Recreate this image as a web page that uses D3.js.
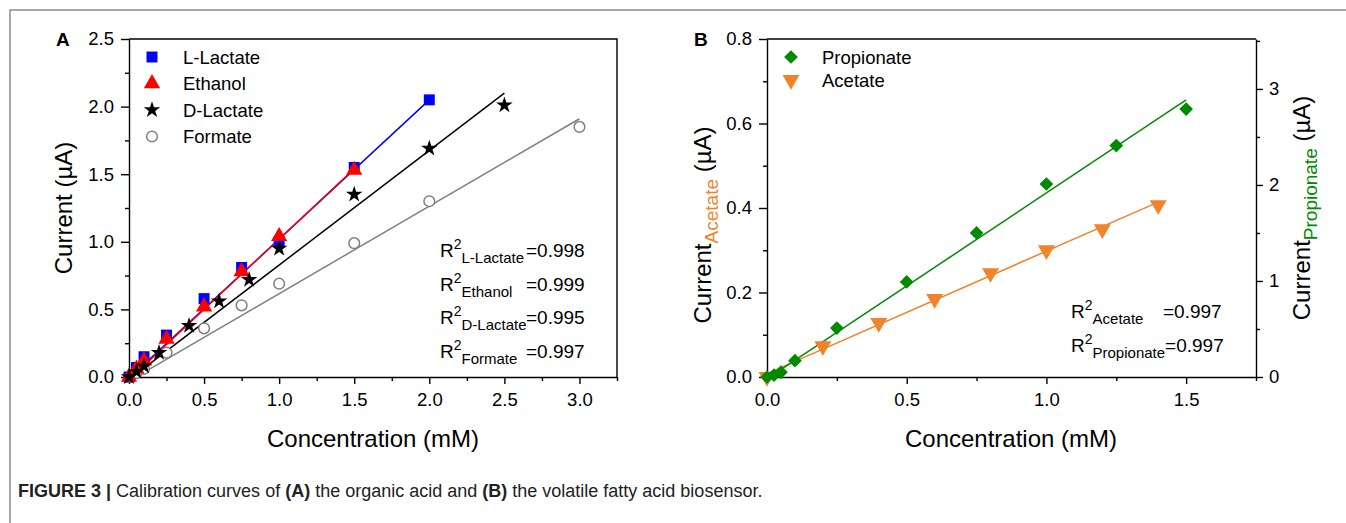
<!DOCTYPE html>
<html>
<head>
<meta charset="utf-8">
<script src="https://cdn.jsdelivr.net/npm/d3@7"></script>
<style>
  body { margin: 0; background: #fff; }
  svg text { font-family: "Liberation Sans", Arial, sans-serif; }
</style>
</head>
<body>
<svg id="chart" width="1346" height="523"></svg>
<script>
// Panel A data (concentration in mM, current in uA)
const lLactateX = [0, 0.05, 0.1, 0.25, 0.5, 0.75, 1.0, 1.5, 2.0];
const lLactateY = [0, 0.07, 0.15, 0.31, 0.58, 0.81, 1.0, 1.55, 2.05];
const ethanolX = [0, 0.05, 0.1, 0.25, 0.5, 0.75, 1.0, 1.5];
const ethanolY = [0, 0.06, 0.12, 0.28, 0.52, 0.78, 1.04, 1.53];
const dLactateX = [0, 0.05, 0.1, 0.2, 0.4, 0.6, 0.8, 1.0, 1.5, 2.0, 2.5];
const dLactateY = [0, 0.04, 0.08, 0.18, 0.38, 0.56, 0.72, 0.95, 1.35, 1.69, 2.01];
const formateX = [0, 0.05, 0.1, 0.25, 0.5, 0.75, 1.0, 1.5, 2.0, 3.0];
const formateY = [0, 0.03, 0.06, 0.18, 0.36, 0.53, 0.69, 0.99, 1.30, 1.85];

// linear fits: [[x0, y0], [x1, y1]]
const lLactateFit = [[0, -0.01], [2.0, 2.05]];
const ethanolFit = [[0, -0.02], [1.5, 1.54]];
const dLactateFit = [[0, -0.02], [2.5, 2.10]];
const formateFit = [[0, -0.03], [3.0, 1.91]];

const r2LabelsA = ['L-Lactate', 'Ethanol', 'D-Lactate', 'Formate'];
const r2ValuesA = ['0.998', '0.999', '0.995', '0.997'];

// Panel B data
const propionateX = [0, 0.025, 0.05, 0.1, 0.25, 0.5, 0.75, 1.0, 1.25, 1.5];
const propionateY = [0, 0.02, 0.05, 0.17, 0.51, 0.99, 1.50, 2.01, 2.41, 2.79]; // right axis
const acetateX = [0, 0.2, 0.4, 0.6, 0.8, 1.0, 1.2, 1.4];
const acetateY = [0, 0.073, 0.128, 0.185, 0.246, 0.30, 0.35, 0.407]; // left axis
const propionateFit = [[0, -0.02], [1.5, 2.885]];
const acetateFit = [[0, 0.008], [1.4, 0.414]];

// tick values
const xTicksA = [0, 0.5, 1.0, 1.5, 2.0, 2.5, 3.0];
const xMinorA = [0.25, 0.75, 1.25, 1.75, 2.25, 2.75, 3.25];
const yTicksA = [0, 0.5, 1.0, 1.5, 2.0, 2.5];
const yMinorA = [0.25, 0.75, 1.25, 1.75, 2.25];
const xTicksB = [0, 0.5, 1.0, 1.5];
const xMinorB = [0.25, 0.75, 1.25, 1.75];
const yTicksBL = [0, 0.2, 0.4, 0.6, 0.8];
const yMinorBL = [0.1, 0.3, 0.5, 0.7];
const yTicksBR = [0, 1, 2, 3];
const yMinorBR = [0.5, 1.5, 2.5, 3.5];

const svg = d3.select('#chart');

// figure frame
svg.append('path')
  .attr('d', 'M10,523 V10 H1346')
  .attr('fill', 'none')
  .attr('stroke', '#8a8a8a')
  .attr('stroke-width', 1.5);

// scales
const xA = d3.scaleLinear().domain([0, 3.25]).range([129, 617]);
const yA = d3.scaleLinear().domain([0, 2.5]).range([377, 39]);
const xB = d3.scaleLinear().domain([0, 1.75]).range([767, 1256]);
const yBL = d3.scaleLinear().domain([0, 0.8]).range([377, 39]);
const yBR = d3.scaleLinear().domain([0, 3.52]).range([377, 39]);

function styleAxis(g) {
  g.selectAll('path, line').attr('stroke', '#000').attr('stroke-width', 1.4);
  g.selectAll('text').attr('font-size', 18.5).attr('fill', '#000')
    .attr('font-family', '"Liberation Sans", Arial, sans-serif');
}

function drawAxes(x, y, xt, xm, yt, ym, fmtX, fmtY, box) {
  svg.append('g')
    .attr('transform', `translate(0,${y.range()[0]})`)
    .call(d3.axisBottom(x).tickValues(xt).tickSize(7).tickSizeOuter(0).tickPadding(9).tickFormat(fmtX))
    .call(styleAxis);
  svg.append('g')
    .attr('transform', `translate(0,${y.range()[0]})`)
    .call(d3.axisBottom(x).tickValues(xm).tickSize(4).tickFormat(''))
    .call(g => g.select('.domain').remove())
    .call(styleAxis);
  svg.append('g')
    .attr('transform', `translate(${x.range()[0]},0)`)
    .call(d3.axisLeft(y).tickValues(yt).tickSize(8).tickSizeOuter(0).tickPadding(7).tickFormat(fmtY))
    .call(styleAxis);
  svg.append('g')
    .attr('transform', `translate(${x.range()[0]},0)`)
    .call(d3.axisLeft(y).tickValues(ym).tickSize(4).tickFormat(''))
    .call(g => g.select('.domain').remove())
    .call(styleAxis);
  // top line (and right line for box)
  const x0 = x.range()[0], x1 = x.range()[1], y0 = y.range()[0], y1 = y.range()[1];
  svg.append('path')
    .attr('d', box ? `M${x0},${y1} H${x1} V${y0}` : `M${x0},${y1} H${x1}`)
    .attr('fill', 'none').attr('stroke', '#000').attr('stroke-width', 1.4);
}

const f1 = d3.format('.1f');
drawAxes(xA, yA, xTicksA, xMinorA, yTicksA, yMinorA, f1, f1, true);
drawAxes(xB, yBL, xTicksB, xMinorB, yTicksBL, yMinorBL, f1, f1, false);

// right axis of panel B
svg.append('g')
  .attr('transform', `translate(${xB.range()[1]},0)`)
  .call(d3.axisRight(yBR).tickValues(yTicksBR).tickSize(7).tickSizeOuter(0).tickPadding(6).tickFormat(d3.format('d')))
  .call(styleAxis);
svg.append('g')
  .attr('transform', `translate(${xB.range()[1]},0)`)
  .call(d3.axisRight(yBR).tickValues(yMinorBR).tickSize(4).tickFormat(''))
  .call(g => g.select('.domain').remove())
  .call(styleAxis);

// fit lines
function fitLine(fit, x, y, color) {
  svg.append('path')
    .datum(fit)
    .attr('d', d3.line().x(d => x(d[0])).y(d => y(d[1])))
    .attr('fill', 'none')
    .attr('stroke', color)
    .attr('stroke-width', 1.5);
}

// markers
function markers(xs, ys, x, y, type, size, fill, stroke, rotate) {
  svg.append('g').selectAll('path')
    .data(xs.map((v, i) => [v, ys[i]]))
    .join('path')
    .attr('d', d3.symbol().type(type).size(size))
    .attr('transform', d => `translate(${x(d[0])},${y(d[1])})` + (rotate ? ` rotate(${rotate})` : ''))
    .attr('fill', fill)
    .attr('stroke', stroke)
    .attr('stroke-width', 1.5);
}

const cBlue = '#0000ff', cRed = '#ff0000', cBlack = '#000000', cGray = '#808080';
const cGreen = '#008a00', cOrange = '#f0832c';

fitLine(formateFit, xA, yA, cGray);
fitLine(dLactateFit, xA, yA, cBlack);
fitLine(lLactateFit, xA, yA, cBlue);
fitLine(ethanolFit, xA, yA, cRed);

markers(formateX, formateY, xA, yA, d3.symbolCircle, 90, '#fff', cGray);
markers(lLactateX, lLactateY, xA, yA, d3.symbolSquare, 120, cBlue, 'none');
markers(ethanolX, ethanolY, xA, yA, d3.symbolTriangle, 115, cRed, 'none');
markers(dLactateX, dLactateY, xA, yA, d3.symbolStar, 85, cBlack, 'none');

fitLine(acetateFit, xB, yBL, cOrange);
fitLine(propionateFit, xB, yBR, cGreen);
markers(acetateX, acetateY, xB, yBL, d3.symbolTriangle, 125, cOrange, 'none', 180);
markers(propionateX, propionateY, xB, yBR, d3.symbolDiamond2, 120, cGreen, 'none');

// legends
const legendA = [
  { name: 'L-Lactate', type: d3.symbolSquare, size: 120, fill: cBlue, stroke: 'none' },
  { name: 'Ethanol', type: d3.symbolTriangle, size: 115, fill: cRed, stroke: 'none' },
  { name: 'D-Lactate', type: d3.symbolStar, size: 85, fill: cBlack, stroke: 'none' },
  { name: 'Formate', type: d3.symbolCircle, size: 90, fill: '#fff', stroke: cGray }
];
legendA.forEach((d, i) => {
  const yy = 57 + i * 26.5;
  svg.append('path').attr('d', d3.symbol().type(d.type).size(d.size))
    .attr('transform', `translate(152,${yy})`)
    .attr('fill', d.fill).attr('stroke', d.stroke).attr('stroke-width', 1.5);
  svg.append('text').attr('x', 183).attr('y', yy + 6.5)
    .attr('font-size', 18.5).text(d.name);
});

const legendB = [
  { name: 'Propionate', type: d3.symbolDiamond2, size: 120, fill: cGreen, rot: 0 },
  { name: 'Acetate', type: d3.symbolTriangle, size: 125, fill: cOrange, rot: 180 }
];
legendB.forEach((d, i) => {
  const yy = 57 + i * 23;
  svg.append('path').attr('d', d3.symbol().type(d.type).size(d.size))
    .attr('transform', `translate(791,${yy}) rotate(${d.rot})`)
    .attr('fill', d.fill);
  svg.append('text').attr('x', 822).attr('y', yy + 6.5)
    .attr('font-size', 18.5).text(d.name);
});

// panel letters
svg.append('text').attr('x', 56).attr('y', 46).attr('font-size', 19).attr('font-weight', 'bold').text('A');
svg.append('text').attr('x', 694).attr('y', 46).attr('font-size', 19).attr('font-weight', 'bold').text('B');

// axis titles
svg.append('text').attr('x', 373).attr('y', 447).attr('text-anchor', 'middle')
  .attr('font-size', 24).text('Concentration (mM)');
svg.append('text').attr('x', 1011).attr('y', 447).attr('text-anchor', 'middle')
  .attr('font-size', 24).text('Concentration (mM)');
svg.append('text').attr('transform', 'translate(72,208) rotate(-90)').attr('text-anchor', 'middle')
  .attr('font-size', 24).text('Current (µA)');

function subTitle(x, y, sub, color) {
  const t = svg.append('text').attr('transform', `translate(${x},${y}) rotate(-90)`)
    .attr('text-anchor', 'middle').attr('font-size', 24);
  t.append('tspan').text('Current');
  t.append('tspan').attr('dy', 7).attr('font-size', 19).attr('fill', color).text(sub);
  t.append('tspan').attr('dy', -7).text(' (µA)');
}
subTitle(711, 225, 'Acetate', cOrange);
subTitle(1310, 208, 'Propionate', cGreen);

// R squared annotations
function r2(x, y, label, value, valueX) {
  const t = svg.append('text').attr('x', x).attr('y', y).attr('font-size', 19);
  t.append('tspan').text('R');
  t.append('tspan').attr('dy', -8).attr('font-size', 14).text('2');
  t.append('tspan').attr('dy', 14).attr('font-size', 15).text(label);
  const v = t.append('tspan').attr('dy', -6).text('=' + value);
  if (valueX) v.attr('x', valueX);
}
r2LabelsA.forEach((lab, i) => r2(440, 257 + i * 33.7, lab, r2ValuesA[i], 526));
r2(1071, 318, 'Acetate', '0.997', 1163);
r2(1071, 352, 'Propionate', '0.997', null);

// caption
const cap = svg.append('text').attr('x', 18).attr('y', 497).attr('font-size', 18)
  .attr('fill', '#222');
cap.append('tspan').attr('font-weight', 'bold').text('FIGURE 3 | ');
cap.append('tspan').text('Calibration curves of ');
cap.append('tspan').attr('font-weight', 'bold').text('(A)');
cap.append('tspan').text(' the organic acid and ');
cap.append('tspan').attr('font-weight', 'bold').text('(B)');
cap.append('tspan').text(' the volatile fatty acid biosensor.');
</script>
</body>
</html>
